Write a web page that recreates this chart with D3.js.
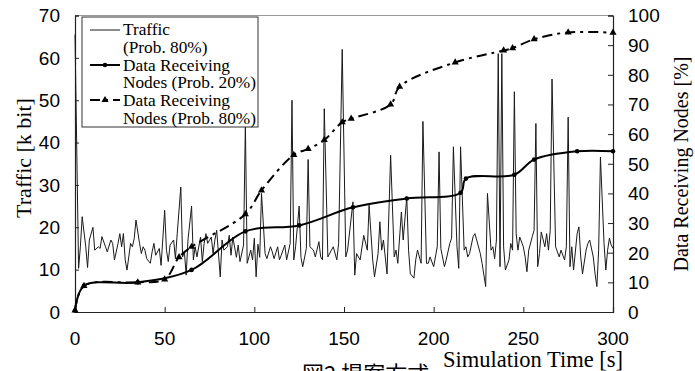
<!DOCTYPE html>
<html>
<head>
<meta charset="utf-8">
<script src="https://cdn.jsdelivr.net/npm/d3@7"></script>
<style>
  body { margin: 0; background: #fff; }
  svg { display: block; }
  .tick-label { font-family: Arial, "Liberation Sans", sans-serif; font-size: 19px; fill: #000; }
  .title { font-family: "Times New Roman", "Liberation Serif", serif; fill: #000; }
</style>
</head>
<body>
<svg id="chart" width="695" height="371"></svg>
<script>
// simulation time [s] and traffic [k bit] (Prob. 80%)
const trafficTime = [0, 2, 3, 4, 6, 7, 8, 10, 11, 13, 14, 15, 17, 18, 20, 21, 22, 24, 25, 26, 27, 28, 29, 31, 32, 33, 34, 36, 37, 38, 39, 40, 42, 43, 44, 45, 47, 48, 50, 51, 52, 53, 55, 56, 57, 59, 60, 61, 62, 63, 65, 66, 67, 68, 70, 71, 72, 73, 74, 76, 77, 78, 79, 81, 82, 83, 85, 86, 87, 88, 90, 91, 92, 94, 95, 96, 98, 99, 100, 101, 102, 103, 104, 106, 107, 109, 110, 111, 113, 114, 115, 117, 118, 120, 121, 122, 123, 125, 126, 127, 129, 130, 131, 133, 134, 136, 137, 138, 139, 141, 143, 144, 146, 147, 149, 151, 152, 155, 156, 157, 159, 161, 163, 164, 166, 167, 169, 170, 171, 172, 174, 176, 178, 179, 180, 182, 183, 185, 186, 187, 189, 190, 191, 193, 194, 196, 197, 198, 200, 202, 203, 204, 206, 207, 209, 210, 211, 213, 214, 215, 217, 218, 219, 220, 222, 223, 224, 226, 227, 229, 230, 232, 233, 234, 235, 236, 237, 238, 239, 240, 242, 243, 244, 245, 246, 247, 248, 250, 251, 252, 253, 255, 256, 257, 258, 259, 260, 262, 263, 264, 265, 266, 268, 269, 270, 271, 273, 274, 275, 276, 277, 278, 280, 281, 282, 283, 285, 286, 287, 289, 290, 291, 292, 293, 295, 296, 297, 298, 299, 300];
const trafficKbit = [65.5, 10.3, 15.4, 22.5, 15.4, 10.5, 17, 20, 14.6, 15.4, 15, 17.8, 15.4, 14.2, 17, 16.2, 12.3, 16.2, 18.5, 15.4, 18.5, 12.3, 9.9, 16.2, 15.4, 17.3, 21.7, 16.2, 13.8, 15.4, 14.6, 12.6, 11.5, 14.2, 16.2, 13.4, 15, 11, 24, 14.6, 11.9, 15.8, 17, 12.6, 18.5, 29.5, 13, 14.2, 8.7, 17, 25, 12.3, 15.4, 13, 17.7, 11.9, 16.2, 18.5, 16.2, 17.7, 13.8, 17, 19.3, 8.3, 17, 14.6, 15.4, 18.1, 13.4, 17.7, 12.9, 15.8, 11.9, 15.8, 44.5, 11.5, 14.6, 12.3, 17.4, 8.3, 16, 12.9, 28, 13.8, 12.6, 15.4, 14.2, 12.6, 15.4, 12.3, 13.4, 15.8, 12.3, 16.2, 50, 12.3, 15.4, 25, 12.9, 10.7, 15, 36, 15.4, 14.6, 13, 16.6, 13, 12.3, 48, 13, 14.6, 15.4, 12.3, 16.2, 62, 13, 14.6, 26, 8.7, 13.8, 12.3, 18.1, 14.6, 25.2, 12.3, 8.3, 13.8, 21.3, 14.6, 17, 9, 37, 13, 14.6, 11.5, 23.6, 17, 27.2, 14.6, 9, 8, 12.3, 14.6, 11.5, 45, 11.5, 11.5, 13, 10.7, 15.4, 37.8, 15, 10.7, 12.3, 16.2, 17.4, 39, 15.4, 10.3, 39, 14.6, 15.4, 13, 13.8, 17.8, 18.5, 17, 13.8, 11.5, 6, 28, 14.6, 15.4, 12.6, 17, 61, 10.7, 61, 15.4, 9.9, 12.3, 16.2, 14.6, 52, 18.5, 14.6, 17.7, 15.4, 13, 9.5, 14.6, 17.8, 19.3, 44.5, 10.7, 13.8, 18.9, 15.4, 18.5, 14.6, 19.3, 55, 15.4, 14.2, 13, 14.6, 12.3, 15.4, 46, 10.7, 15.4, 9.9, 18.5, 20.1, 13, 9, 14.6, 16.2, 17, 13, 9, 6, 14.6, 36.6, 16.2, 9.9, 14.6, 17.4, 15.8, 15];

// data receiving nodes [%] (Prob. 20%)
const nodes20Time = [0, 5, 35, 65, 95, 125, 155, 185, 215, 218, 245, 256, 280, 300];
const nodes20Pct = [0.5, 8.8, 10, 14.2, 27.2, 29.2, 35.3, 38.3, 40.2, 45, 46.3, 51.4, 54.2, 54.2];

// data receiving nodes [%] (Prob. 80%)
const nodes80Time = [0, 5, 35, 50, 58, 65, 95, 104, 122, 130, 139, 149, 154, 176, 181, 212, 239, 244, 256, 275, 300];
const nodes80Pct = [0.5, 8.8, 10, 11, 18.5, 22, 33, 41, 53, 55, 58, 64, 65.2, 70, 76, 84.2, 88.2, 89, 92, 94.3, 94.2];

const xTicks = [0, 50, 100, 150, 200, 250, 300];
const leftTicks = [0, 10, 20, 30, 40, 50, 60, 70];
const rightTicks = [0, 10, 20, 30, 40, 50, 60, 70, 80, 90, 100];

const legendLabels = [
  ["Traffic", "(Prob. 80%)"],
  ["Data Receiving", "Nodes (Prob. 20%)"],
  ["Data Receiving", "Nodes (Prob. 80%)"]
];

const plot = { left: 75, right: 613, top: 15.5, bottom: 312 };

const svg = d3.select("#chart");

const x = d3.scaleLinear().domain([0, 300]).range([plot.left, plot.right]);
const yLeft = d3.scaleLinear().domain([0, 70]).range([plot.bottom, plot.top]);
const yRight = d3.scaleLinear().domain([0, 100]).range([plot.bottom, plot.top]);

// frame: gray top edge
svg.append("line")
  .attr("x1", plot.left).attr("x2", plot.right)
  .attr("y1", plot.top).attr("y2", plot.top)
  .attr("stroke", "#999").attr("stroke-width", 1);

// axes (ticks point inward)
const gx = svg.append("g").attr("transform", `translate(0,${plot.bottom})`)
  .call(d3.axisBottom(x).tickValues(xTicks).tickSize(-5).tickFormat(""));
const gl = svg.append("g").attr("transform", `translate(${plot.left},0)`)
  .call(d3.axisLeft(yLeft).tickValues(leftTicks).tickSize(-4).tickFormat(""));
const gr = svg.append("g").attr("transform", `translate(${plot.right},0)`)
  .call(d3.axisRight(yRight).tickValues(rightTicks).tickSize(-5).tickFormat(""));

[gx, gl, gr].forEach(g => {
  g.select(".domain").attr("stroke", "#222").attr("stroke-width", 1.2);
  g.selectAll(".tick line").attr("stroke", "#222");
});

// tick labels
svg.selectAll(".xlab").data(xTicks).enter().append("text")
  .attr("class", "tick-label")
  .attr("x", d => x(d)).attr("y", 345)
  .attr("text-anchor", "middle")
  .text(d => d);

svg.selectAll(".llab").data(leftTicks).enter().append("text")
  .attr("class", "tick-label")
  .attr("x", 60).attr("y", d => yLeft(d)).attr("dy", "0.36em")
  .attr("text-anchor", "end")
  .text(d => d);

svg.selectAll(".rlab").data(rightTicks).enter().append("text")
  .attr("class", "tick-label")
  .attr("x", 628).attr("y", d => yRight(d)).attr("dy", "0.36em")
  .attr("text-anchor", "start")
  .text(d => d);

// axis titles
svg.append("text").attr("class", "title")
  .attr("transform", "translate(31,158) rotate(-90)")
  .attr("text-anchor", "middle").style("font-size", "22px")
  .text("Traffic [k bit]");

svg.append("text").attr("class", "title")
  .attr("transform", "translate(688,164) rotate(-90)")
  .attr("text-anchor", "middle").style("font-size", "20px")
  .text("Data Receiving Nodes [%]");

svg.append("text").attr("class", "title")
  .attr("x", 443).attr("y", 367)
  .style("font-size", "22.5px")
  .text("Simulation Time [s]");

svg.append("text")
  .attr("x", 302).attr("y", 382)
  .style("font-family", '"Noto Sans CJK JP", sans-serif')
  .style("font-size", "22px")
  .text("図2 提案方式");

// series
const traffic = d3.zip(trafficTime, trafficKbit);
const nodes20 = d3.zip(nodes20Time, nodes20Pct);
const nodes80 = d3.zip(nodes80Time, nodes80Pct);

const trafficLine = d3.line().x(d => x(d[0])).y(d => yLeft(d[1]));
const nodesLine = d3.line().x(d => x(d[0])).y(d => yRight(d[1]))
  .curve(d3.curveCatmullRom.alpha(0.5));

svg.append("path").datum(traffic)
  .attr("d", trafficLine)
  .attr("fill", "none").attr("stroke", "#1a1a1a").attr("stroke-width", 1);

svg.append("path").datum(nodes80)
  .attr("d", nodesLine)
  .attr("fill", "none").attr("stroke", "#000").attr("stroke-width", 2)
  .attr("stroke-dasharray", "10,5,3,5");

svg.append("path").datum(nodes20)
  .attr("d", nodesLine)
  .attr("fill", "none").attr("stroke", "#000").attr("stroke-width", 2);

const tri = d3.symbol().type(d3.symbolTriangle).size(22);
svg.selectAll(".m80").data(nodes80).enter().append("path")
  .attr("d", tri)
  .attr("transform", d => `translate(${x(d[0])},${yRight(d[1])})`)
  .attr("fill", "#000");

svg.selectAll(".m20").data(nodes20).enter().append("circle")
  .attr("cx", d => x(d[0])).attr("cy", d => yRight(d[1]))
  .attr("r", 2.3).attr("fill", "#000");

// legend
const legend = svg.append("g");
legend.append("rect")
  .attr("x", 82).attr("y", 17).attr("width", 176).attr("height", 110)
  .attr("fill", "#fff").attr("stroke", "#333").attr("stroke-width", 1);

const legendY = [30, 65, 100];
legend.append("line").attr("x1", 90).attr("x2", 120).attr("y1", legendY[0]).attr("y2", legendY[0])
  .attr("stroke", "#1a1a1a").attr("stroke-width", 1);
legend.append("line").attr("x1", 90).attr("x2", 120).attr("y1", legendY[1]).attr("y2", legendY[1])
  .attr("stroke", "#000").attr("stroke-width", 2);
legend.append("circle").attr("cx", 105).attr("cy", legendY[1]).attr("r", 2.3).attr("fill", "#000");
legend.append("line").attr("x1", 90).attr("x2", 120).attr("y1", legendY[2]).attr("y2", legendY[2])
  .attr("stroke", "#000").attr("stroke-width", 2).attr("stroke-dasharray", "10,5,3,5");
legend.append("path").attr("d", tri).attr("transform", `translate(105,${legendY[2]})`).attr("fill", "#000");

legendLabels.forEach((lines, i) => {
  lines.forEach((t, j) => {
    legend.append("text").attr("class", "title")
      .attr("x", 123).attr("y", 35 + i * 35.5 + j * 17.6)
      .style("font-size", "17.3px")
      .text(t);
  });
});
</script>
</body>
</html>
